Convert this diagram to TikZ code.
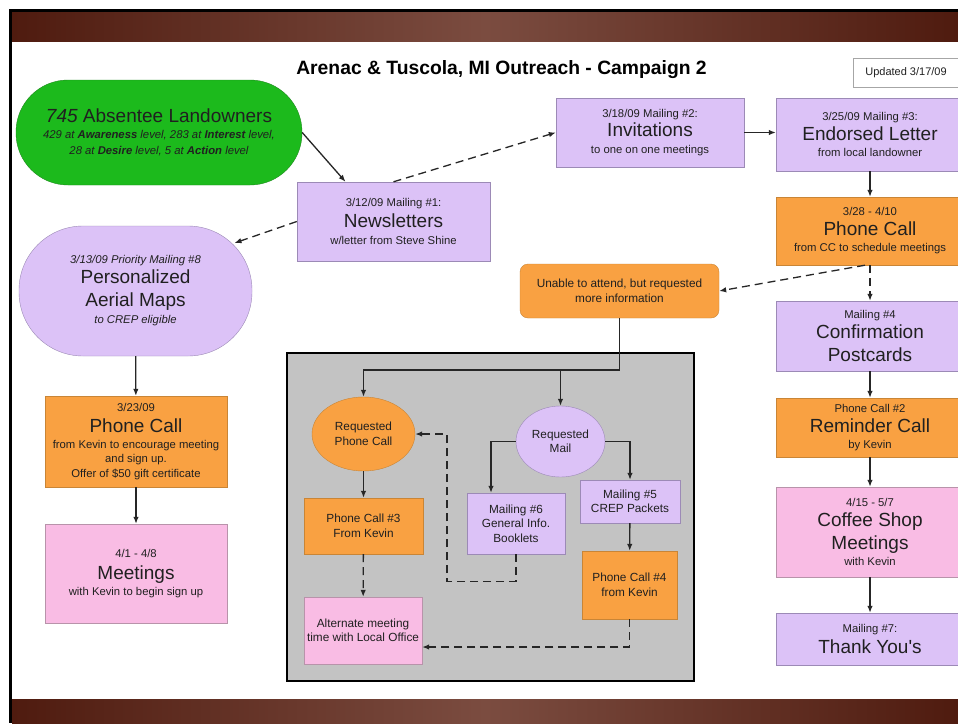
\documentclass[tikz,border=0pt]{standalone}
\usepackage{fontspec}
\setmainfont{Liberation Sans}
\usepackage{tikz}
\usetikzlibrary{shapes, arrows.meta, positioning}
\definecolor{lav}{HTML}{DCC2F7}
\definecolor{lavline}{HTML}{9C8AB6}
\definecolor{org}{HTML}{F9A142}
\definecolor{orgline}{HTML}{C98536}
\definecolor{pnk}{HTML}{F9BCE4}
\definecolor{pnkline}{HTML}{B893AA}
\definecolor{grn}{HTML}{1CBA1C}
\definecolor{grnline}{HTML}{1E8A1E}
\definecolor{panelgray}{HTML}{C3C3C3}
\definecolor{txt}{HTML}{202020}
\definecolor{brdark}{HTML}{4F1B0F}
\definecolor{brlight}{HTML}{7B4C40}
\newcommand{\smalltxt}{\fontsize{11.3}{16}\selectfont\lineskiplimit=-50pt}
\newcommand{\innertxt}{\fontsize{11.8}{14.5}\selectfont\lineskiplimit=-50pt}
\newcommand{\bigtxt}{\fontsize{19}{22}\selectfont}
\tikzstyle{box} = [rectangle, draw, inner sep=0pt, align=center, text=txt, font=\smalltxt]
\tikzstyle{lbox} = [box, fill=lav, draw=lavline]
\tikzstyle{obox} = [box, fill=org, draw=orgline]
\tikzstyle{pbox} = [box, fill=pnk, draw=pnkline]
\tikzstyle{inner} = [font=\innertxt]
\tikzstyle{panel} = [rectangle, draw=black, line width=2.5pt, fill=panelgray, inner sep=0pt]
\tikzstyle{line} = [draw, line width=1.3pt, color=black!85]
\tikzstyle{arr} = [line, -{Latex[length=7pt,width=5.5pt]}]
\tikzstyle{darr} = [arr, dash pattern=on 8pt off 5pt]

\begin{document}
\begin{tikzpicture}[x=1pt, y=-1pt]
				\useasboundingbox (0,0) rectangle (958,723);
				\clip (0,0) rectangle (958,723);
				\fill [white] (0,0) rectangle (958,723);
				\shade [left color=brdark, right color=brdark, middle color=brlight] (12,12) rectangle (958,41);
				\shade [left color=brdark, right color=brdark, middle color=brlight] (12,699) rectangle (958,723);
				\fill [black] (9,9) rectangle (958,12);
				\fill [black] (9,9) rectangle (12,723);

				\node [anchor=base, text=black, font=\bfseries\fontsize{19.3}{21}\selectfont] (title) at (501.5,74) {Arenac \& Tuscola, MI Outreach - Campaign 2};
				\node [draw=black!35, fill=white, minimum width=106pt, minimum height=29pt, text=txt, font=\fontsize{11}{13}\selectfont] (upd) at (906,72.5) {Updated 3/17/09};

				\node [panel, minimum width=407pt, minimum height=328pt] (panel) at (490.5,517) {};

				% left side
				\node [box, fill=grn, draw=grnline, rounded corners=52pt, minimum width=286pt, minimum height=105pt] (land) at (159,132.5)
					{{\bigtxt\textit{745} Absentee Landowners}\\
					{\itshape 429 at \textbf{Awareness} level, 283 at \textbf{Interest} level,}\\
					{\itshape 28 at \textbf{Desire} level, 5 at \textbf{Action} level}};
				\node [lbox, rounded corners=64pt, minimum width=233pt, minimum height=130pt] (maps) at (135.5,291)
					{{\itshape 3/13/09 Priority Mailing \#8}\\[4pt]{\bigtxt Personalized}\\[7pt]{\bigtxt Aerial Maps}\\[1pt]{\itshape to CREP eligible}};
				\node [obox, minimum width=182pt, minimum height=91pt] (phoneL) at (136,441.5)
					{3/23/09\\[5pt]{\bigtxt Phone Call}\\from Kevin to encourage meeting\\[-2pt]and sign up.\\[-1pt]Offer of \$50 gift certificate};
				\node [pbox, minimum width=182pt, minimum height=99pt] (meet) at (136,573.5)
					{4/1 - 4/8\\[6pt]{\bigtxt Meetings}\\with Kevin to begin sign up};

				% top row
				\node [lbox, minimum width=193pt, minimum height=79pt] (news) at (393.5,221.5)
					{3/12/09 Mailing \#1:\\[5pt]{\bigtxt Newsletters}\\[1pt]w/letter from Steve Shine};
				\node [lbox, minimum width=188pt, minimum height=69pt] (invite) at (650,132.5)
					{3/18/09 Mailing \#2:\\[3pt]{\bigtxt Invitations}\\[1pt]to one on one meetings};

				% right column
				\node [lbox, minimum width=188pt, minimum height=73pt] (endorse) at (870,134.5)
					{3/25/09 Mailing \#3:\\[4pt]{\bigtxt Endorsed Letter}\\from local landowner};
				\node [obox, minimum width=188pt, minimum height=68pt] (phoneR) at (870,231)
					{3/28 - 4/10\\[4pt]{\bigtxt Phone Call}\\from CC to schedule meetings};
				\node [lbox, minimum width=188pt, minimum height=70pt] (confirm) at (870,336)
					{Mailing \#4\\[4pt]{\bigtxt Confirmation}\\[7pt]{\bigtxt Postcards}};
				\node [obox, minimum width=188pt, minimum height=59pt] (remind) at (870,427.5)
					{Phone Call \#2\\[4pt]{\bigtxt Reminder Call}\\by Kevin};
				\node [pbox, minimum width=188pt, minimum height=90pt] (coffee) at (870,532)
					{4/15 - 5/7\\[4pt]{\bigtxt Coffee Shop}\\[7pt]{\bigtxt Meetings}\\with Kevin};
				\node [lbox, minimum width=188pt, minimum height=52pt] (thanks) at (870,639)
					{Mailing \#7:\\[5pt]{\bigtxt Thank You\textquotesingle s}};

				% inside the gray panel
				\node [obox, inner, rounded corners=8pt, minimum width=199pt, minimum height=54pt] (unable) at (619.5,291)
					{Unable to attend, but requested\\more information};
				\node [obox, inner, ellipse, minimum width=103pt, minimum height=74pt] (reqphone) at (363.5,434)
					{Requested\\Phone Call};
				\node [lbox, inner, ellipse, minimum width=89pt, minimum height=71pt] (reqmail) at (560.5,441.5)
					{Requested\\Mail};
				\node [obox, inner, minimum width=119pt, minimum height=56pt] (pc3) at (363.5,526)
					{Phone Call \#3\\From Kevin};
				\node [lbox, inner, minimum width=98pt, minimum height=61pt] (m6) at (516,523.5)
					{Mailing \#6\\General Info.\\Booklets};
				\node [lbox, inner, minimum width=100pt, minimum height=43pt] (m5) at (630,501.5)
					{Mailing \#5\\CREP Packets};
				\node [obox, inner, minimum width=95pt, minimum height=68pt] (pc4) at (629.5,585)
					{Phone Call \#4\\from Kevin};
				\node [pbox, inner, minimum width=118pt, minimum height=67pt] (alt) at (363,630.5)
					{Alternate meeting\\time with Local Office};
				\coordinate (split) at (619.5,370);

				\path [arr] (land.east) -- ([xshift=-48pt]news.north);
				\path [darr] (news.north) -- (invite.west);
				\path [darr] (news.west) -- ([shift={(99,-48)}]maps.center);
				\path [arr] (invite.east) -- (invite.east -| endorse.west);
				\path [arr] (endorse) -- (phoneR);
				\path [darr] (phoneR) -- (confirm);
				\path [darr] ([xshift=-5pt]phoneR.south) -- (unable.east);
				\path [arr] (confirm) -- (remind);
				\path [arr] (remind) -- (coffee);
				\path [arr] (coffee) -- (thanks);
				\path [arr] (maps) -- (phoneL);
				\path [arr] (phoneL) -- (meet);

				\path [line] (unable.south) -- (split);
				\path [arr] (split) -| (reqphone.north);
				\path [arr] (split -| reqmail.north) -- (reqmail.north);
				\path [arr] (reqmail.west) -| ([xshift=-25pt]m6.north);
				\path [arr] (reqmail.east) -| (m5.north);
				\path [arr] (reqphone) -- (pc3);
				\path [arr] (m5) -- (pc4);
				\path [darr] (pc3) -- (alt);
				\path [darr] (pc4.south) |- ([yshift=-16.5pt]alt.east);
				\path [darr] (m6.south) -- ++(0,27) -- ++(-69,0) |- (reqphone.east);
			\end{tikzpicture}
\end{document}
